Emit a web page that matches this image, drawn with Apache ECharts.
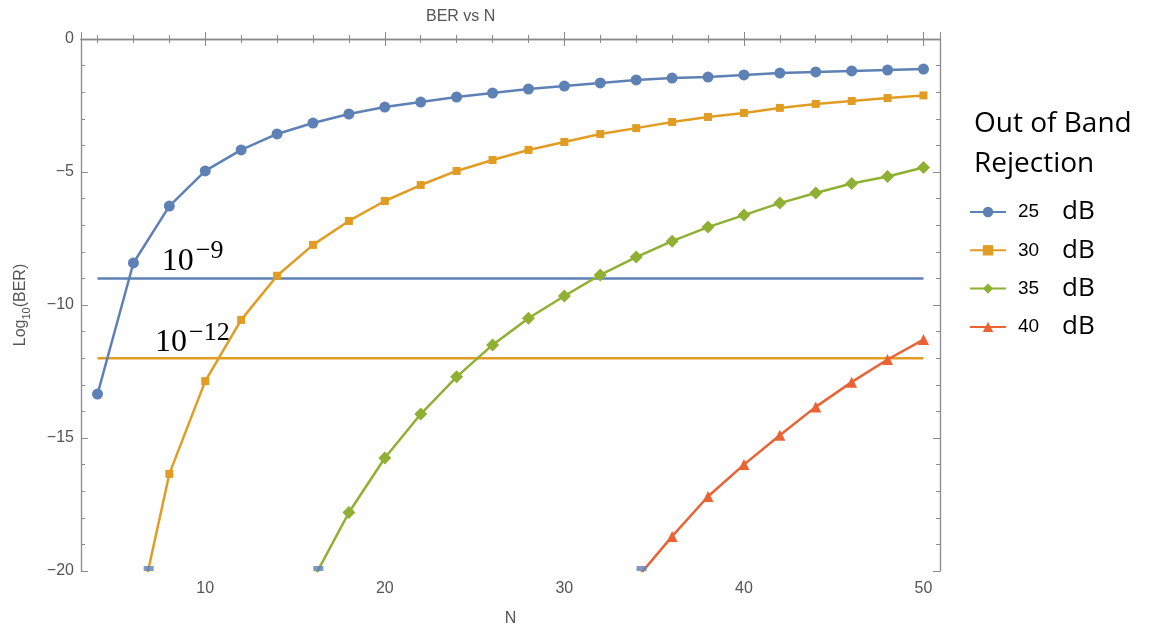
<!DOCTYPE html>
<html><head><meta charset="utf-8">
<script src="https://cdn.jsdelivr.net/npm/echarts@6/dist/echarts.min.js"></script>
<style>html,body{margin:0;padding:0;background:#fff}#c{width:1150px;height:631px}</style>
</head><body><div id="c"></div>
<script>
// ---- data ----
const N = [4,6,8,10,12,14,16,18,20,22,24,26,28,30,32,34,36,38,40,42,44,46,48,50];
const ber25 = [-13.35,-8.42,-6.28,-4.96,-4.17,-3.57,-3.16,-2.82,-2.56,-2.37,-2.18,-2.03,-1.88,-1.77,-1.65,-1.54,-1.47,-1.43,-1.35,-1.28,-1.24,-1.2,-1.17,-1.13];
const ber30 = [null,-22.5,-16.35,-12.86,-10.56,-8.9,-7.74,-6.84,-6.09,-5.49,-4.96,-4.55,-4.17,-3.87,-3.57,-3.35,-3.12,-2.93,-2.78,-2.59,-2.44,-2.33,-2.22,-2.12];
const ber35 = [null,null,null,null,null,null,-20.33,-17.8,-15.75,-14.1,-12.7,-11.5,-10.5,-9.66,-8.87,-8.2,-7.6,-7.07,-6.62,-6.17,-5.79,-5.43,-5.17,-4.83];
const ber40 = [null,null,null,null,null,null,null,null,null,null,null,null,null,null,null,-20.3,-18.7,-17.2,-16.0,-14.9,-13.83,-12.9,-12.05,-11.3];
const seriesNames = ['25','30','35','40'];
const thresholds = [-9, -12];
const thresholdSpan = [4, 50];
const annotations = [
  {base:'10', sup:'−9', n:9.3, v:-8.35},
  {base:'10', sup:'−12', n:9.28, v:-11.42}
];
const clipMarks = [6.85, 16.3, 34.3];
const yTicks = [0,-5,-10,-15,-20];
const xTicks = [10,20,30,40,50];

// ---- styling ----
const colors = ['#5E81B5','#E19C24','#8FB032','#EB6235'];
const symbols = ['circle','rect','diamond','triangle'];
const symSizes = [11,8,13,11];
const axisGray = '#8a8a8a';
const textGray = '#555';
const sans = 'Liberation Sans, Arial, sans-serif';

const allSeries = [ber25, ber30, ber35, ber40];
const series = allSeries.map((arr, i) => ({
  name: seriesNames[i], type: 'line',
  data: N.map((n, j) => [n, arr[j]]),
  symbol: symbols[i], symbolSize: symSizes[i], showAllSymbol: true,
  clip: true,
  itemStyle: {color: colors[i]},
  lineStyle: {color: colors[i], width: 2.5},
  z: 3
}));
thresholds.forEach((t, i) => {
  const a = annotations[i];
  series.push({
    name: 'thr' + i, type: 'line',
    data: thresholdSpan.map(n => [n, t]),
    showSymbol: false, symbol: 'none',
    lineStyle: {color: colors[i], width: 2.5},
    z: 2,
    markPoint: {
      symbol: 'circle', symbolSize: 0, silent: true,
      data: [{coord: [a.n, a.v], value: a.base}],
      label: {
        show: true, position: 'inside',
        formatter: () => '{b|' + a.base + '}{s|' + a.sup + '}',
        rich: {
          b: {fontFamily: 'Liberation Serif, serif', fontSize: 32, color: '#000', lineHeight: 46},
          s: {fontFamily: 'Liberation Serif, serif', fontSize: 26, color: '#000', lineHeight: 25, verticalAlign: 'top', padding: [0,0,0,2]}
        }
      }
    }
  });
});
series.push({
  name: 'clip', type: 'scatter',
  data: clipMarks.map(n => [n, -20]),
  symbol: 'rect', symbolSize: [10, 5], symbolOffset: [0, -2.5],
  itemStyle: {color: colors[0]}, z: 4, silent: true
});

const minX = 3.08, maxX = 50.92;
const baseAxis = {
  axisLine: {show: true, lineStyle: {color: axisGray, width: 1.3}},
  axisTick: {show: true, inside: true, length: 7, lineStyle: {color: axisGray}},
  minorTick: {show: true, splitNumber: 5, length: 4, lineStyle: {color: axisGray}},
  splitLine: {show: false},
  nameTextStyle: {color: textGray, fontSize: 16, fontFamily: sans}
};

const chart = echarts.init(document.getElementById('c'), null, {renderer: 'canvas'});
chart.setOption({
  animation: false,
  backgroundColor: '#fff',
  title: [
    {text: 'BER vs N', left: 426, top: 9, padding: 0, textStyle: {color: textGray, fontSize: 16, fontWeight: 'normal', fontFamily: sans}},
    {text: 'Out of Band\nRejection', left: 974, top: 104, padding: 0, textStyle: {color: '#000', fontSize: 28, fontWeight: 'normal', fontFamily: 'Open Sans, sans-serif', lineHeight: 40}}
  ],
  grid: {left: 81, top: 39, right: 210, bottom: 60, containLabel: false, outerBoundsMode: 'none'},
  legend: {
    data: seriesNames, orient: 'vertical', left: 969, top: 199, padding: 0,
    itemWidth: 36, itemHeight: 13, itemGap: 12.3,
    formatter: name => '{n|' + name + '}{d|dB}',
    textStyle: {
      rich: {
        n: {fontFamily: sans, fontSize: 19, color: '#000', width: 44, padding: [0,0,0,7], lineHeight: 30},
        d: {fontFamily: 'Open Sans, sans-serif', fontSize: 26, color: '#000', lineHeight: 30}
      }
    },
    selectedMode: false
  },
  xAxis: [
    Object.assign({}, baseAxis, {
      type: 'value', min: minX, max: maxX, position: 'bottom',
      name: 'N', nameLocation: 'middle', nameGap: 40,
      axisLabel: {color: textGray, fontSize: 16, fontFamily: sans, margin: 10, showMinLabel: false, showMaxLabel: false,
        formatter: v => xTicks.indexOf(v) >= 0 ? String(v) : ''}
    }),
    Object.assign({}, baseAxis, {
      type: 'value', min: minX, max: maxX, position: 'top', axisLabel: {show: false}
    })
  ],
  yAxis: [
    Object.assign({}, baseAxis, {
      type: 'value', min: -20, max: 0, interval: 5, position: 'left',
      name: '{a|Log}{s|10}{a|(BER)}', nameLocation: 'middle', nameGap: 49, nameRotate: 90,
      nameTextStyle: {rich: {
        a: {color: textGray, fontSize: 16, fontFamily: sans, lineHeight: 22},
        s: {color: textGray, fontSize: 11, fontFamily: sans, lineHeight: 12, verticalAlign: 'bottom'}
      }},
      axisLabel: {color: textGray, fontSize: 16, fontFamily: sans, margin: 7,
        formatter: v => yTicks.indexOf(v) >= 0 ? (v === 0 ? '0' : '−' + Math.abs(v)) : ''}
    }),
    Object.assign({}, baseAxis, {
      type: 'value', min: -20, max: 0, interval: 5, position: 'right', axisLabel: {show: false}
    })
  ],
  series: series
});
</script></body></html>
